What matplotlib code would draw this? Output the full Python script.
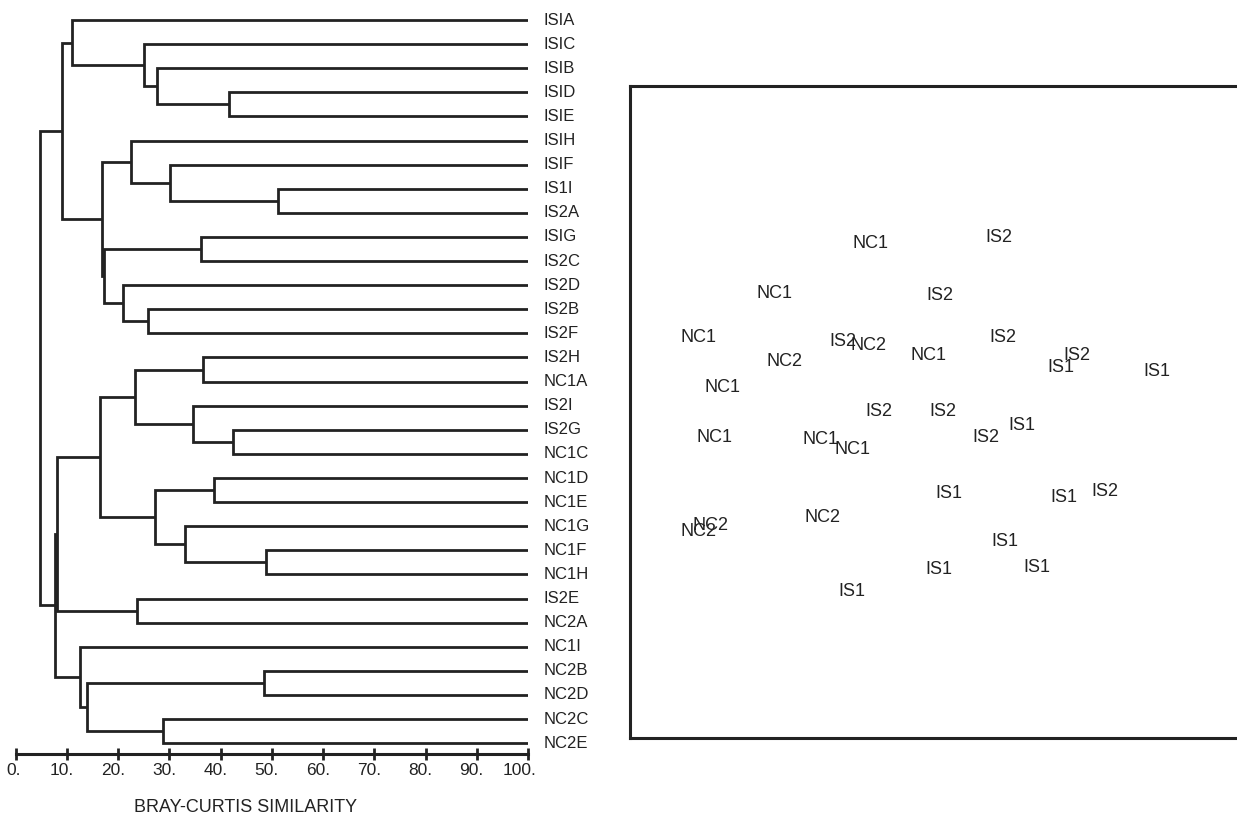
import matplotlib
matplotlib.use("Agg")
import matplotlib.pyplot as plt
import matplotlib.transforms as mtransforms

plt.rcParams["font.family"] = ["Liberation Sans", "DejaVu Sans"]

# leaf order of the cluster tree, top to bottom
leaves = ["ISIA", "ISIC", "ISIB", "ISID", "ISIE", "ISIH", "ISIF", "IS1I", "IS2A",
          "ISIG", "IS2C", "IS2D", "IS2B", "IS2F", "IS2H", "NC1A", "IS2I", "IS2G",
          "NC1C", "NC1D", "NC1E", "NC1G", "NC1F", "NC1H", "IS2E", "NC2A", "NC1I",
          "NC2B", "NC2D", "NC2C", "NC2E"]

# merges: (left child, right child, Bray-Curtis similarity); "mN" is the N-th merge
merges = [
    ("ISID", "ISIE", 41.6),
    ("ISIB", "m0", 27.7),
    ("ISIC", "m1", 25.0),
    ("ISIA", "m2", 11.0),
    ("IS1I", "IS2A", 51.2),
    ("ISIF", "m4", 30.2),
    ("ISIH", "m5", 22.6),
    ("ISIG", "IS2C", 36.1),
    ("IS2B", "IS2F", 25.9),
    ("IS2D", "m8", 20.9),
    ("m7", "m9", 17.3),
    ("m6", "m10", 16.8),
    ("m3", "m11", 9.1),
    ("IS2H", "NC1A", 36.6),
    ("IS2G", "NC1C", 42.4),
    ("IS2I", "m14", 34.6),
    ("m13", "m15", 23.4),
    ("NC1D", "NC1E", 38.7),
    ("NC1F", "NC1H", 48.9),
    ("NC1G", "m18", 33.0),
    ("m17", "m19", 27.3),
    ("m16", "m20", 16.5),
    ("IS2E", "NC2A", 23.8),
    ("m21", "m22", 8.0),
    ("NC2B", "NC2D", 48.5),
    ("NC2C", "NC2E", 28.7),
    ("m24", "m25", 13.9),
    ("NC1I", "m26", 12.5),
    ("m23", "m27", 7.8),
    ("m12", "m28", 4.8),
]

sim_ticks = [0, 10, 20, 30, 40, 50, 60, 70, 80, 90, 100]

# ordination scores (dimension 1, dimension 2) with their group labels
mds_labels = ["NC1", "IS2", "NC1", "IS2", "NC1", "IS2", "NC2", "NC1", "IS2", "NC2",
              "IS1", "IS2", "IS1", "NC1", "IS2", "IS2", "IS1", "IS2", "NC1", "NC1",
              "NC1", "IS1", "IS1", "IS2", "NC2", "NC2", "NC2", "IS1", "IS1", "IS1",
              "IS1"]
mds_x = [-0.240, 0.276, -0.620, 0.040, -0.928, -0.348, -0.248, -0.008, 0.292, -0.580,
         0.524, 0.588, 0.908, -0.832, -0.204, 0.052, 0.368, 0.224, -0.864, -0.436,
         -0.308, 0.076, 0.536, 0.700, -0.432, -0.876, -0.924, 0.300, 0.036, 0.428,
         -0.312]
mds_y = [0.676, 0.700, 0.476, 0.468, 0.300, 0.280, 0.264, 0.224, 0.296, 0.200,
         0.180, 0.228, 0.160, 0.096, 0.004, 0.004, -0.056, -0.100, -0.100, -0.112,
         -0.152, -0.324, -0.340, -0.320, -0.424, -0.456, -0.476, -0.520, -0.628, -0.620,
         -0.716]

ink = "#222222"
W, H = 1237, 815
fig = plt.figure(figsize=(W / 100, H / 100), dpi=100)

# ---- dendrogram ----
ax = fig.add_axes([15.5 / W, (H - 754) / H, 512.5 / W, 746 / H])
ax.set_xlim(0, 100)
ax.set_ylim(30.45, -0.5)

pos = {name: (100.0, i) for i, name in enumerate(leaves)}
for k, (a, b, h) in enumerate(merges):
    ha_, ya = pos[a]
    hb, yb = pos[b]
    ax.plot([ha_, h, h, hb], [ya, ya, yb, yb], color=ink, lw=2.0,
            solid_joinstyle="miter", solid_capstyle="butt")
    pos["m%d" % k] = (h, (ya + yb) / 2)

for i, name in enumerate(leaves):
    ax.text(103.0, i, name, fontsize=12, ha="left", va="center",
            color=ink, clip_on=False)

for s in ["top", "right", "left"]:
    ax.spines[s].set_visible(False)
ax.spines["bottom"].set_linewidth(2.2)
ax.spines["bottom"].set_color(ink)
ax.spines["bottom"].set_bounds(0, 100)
ax.set_yticks([])
ax.set_xticks(sim_ticks, ["%d." % t for t in sim_ticks])
ax.tick_params(axis="x", direction="inout", length=9, width=2, color=ink,
               labelsize=12.5, pad=2, labelcolor=ink)
# nudge labels left so the trailing point sits near the tick
for t, lab in zip(sim_ticks, ax.get_xticklabels()):
    nd = len(str(t))
    dx = (1 - 3 * nd) / 100
    lab.set_transform(lab.get_transform() +
                      mtransforms.ScaledTranslation(dx, 0, fig.dpi_scale_trans))

fig.text(246 / W, 1 - 807 / H, "BRAY-CURTIS SIMILARITY", fontsize=13,
         ha="center", va="center", color=ink)

# ---- MDS ordination ----
ax2 = fig.add_axes([630 / W, (H - 738) / H, (W - 630) / W, 652 / H])
ax2.set_xlim(-1.2, 1.228)
ax2.set_ylim(-1.304, 1.304)
for x, y, lab in zip(mds_x, mds_y, mds_labels):
    ax2.text(x, y, lab, fontsize=13, ha="center", va="center", color=ink)
ax2.set_xticks([])
ax2.set_yticks([])
ax2.spines["right"].set_visible(False)
for s in ["top", "left", "bottom"]:
    ax2.spines[s].set_linewidth(2.2)
    ax2.spines[s].set_color(ink)

fig.savefig("out.png", dpi=100)
